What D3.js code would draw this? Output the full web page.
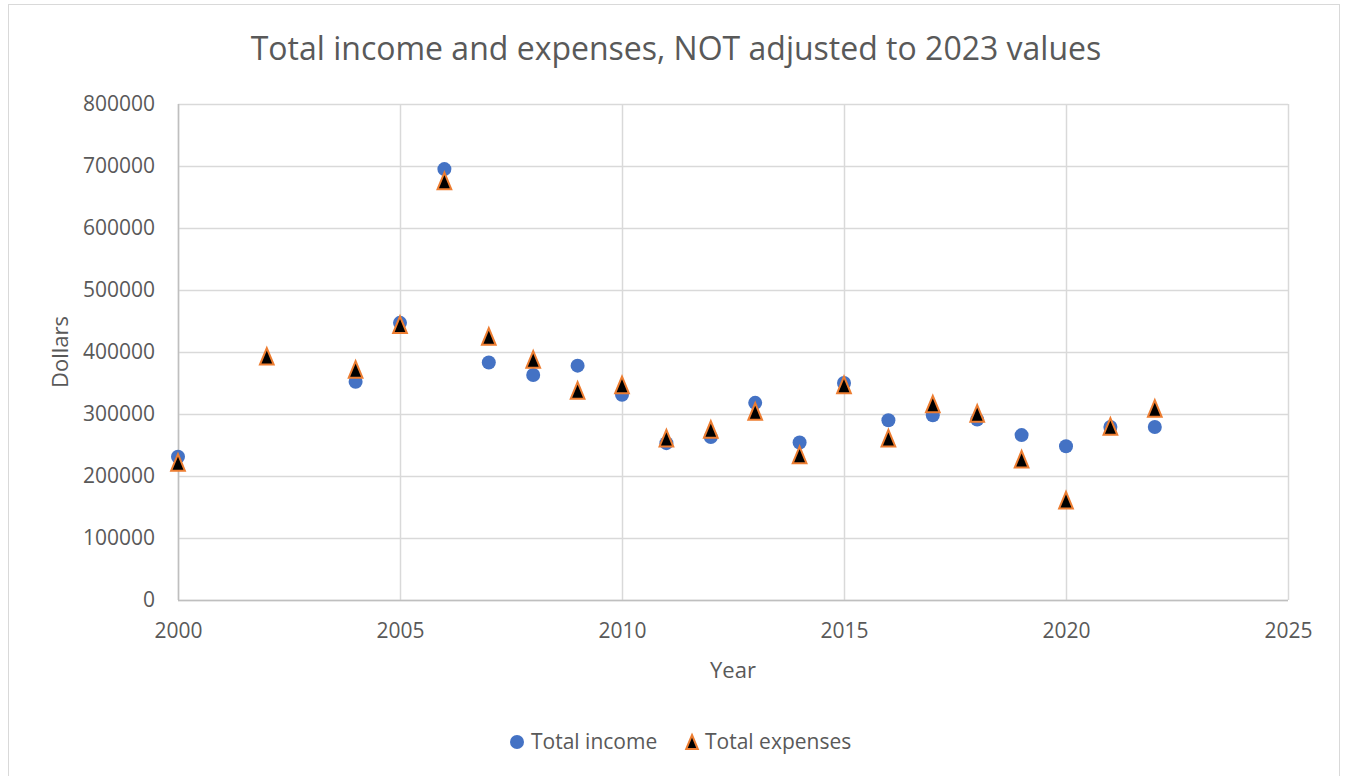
<!DOCTYPE html>
<html>
<head>
<meta charset="utf-8">
<script src="https://cdn.jsdelivr.net/npm/d3@7/dist/d3.min.js"></script>
<style>
  body { margin: 0; background: #fff; }
  text { font-family: "Open Sans", "Noto Sans", sans-serif; fill: #595959; }
</style>
</head>
<body>
<script>
// data
const incomeYears = [2000, 2004, 2005, 2006, 2007, 2008, 2009, 2010, 2011, 2012, 2013, 2014, 2015, 2016, 2017, 2018, 2019, 2020, 2021, 2022];
const incomeValues = [231000, 352000, 447000, 695000, 383000, 363000, 378000, 331000, 253000, 263000, 318000, 254000, 350000, 290000, 298000, 291000, 266000, 248000, 279000, 279000];
const expenseYears = [2000, 2002, 2004, 2005, 2006, 2007, 2008, 2009, 2010, 2011, 2012, 2013, 2014, 2015, 2016, 2017, 2018, 2019, 2020, 2021, 2022];
const expenseValues = [222000, 393000, 372000, 444000, 676000, 425000, 388000, 338000, 347000, 261000, 275000, 304000, 234000, 347000, 261000, 316000, 301000, 227000, 161000, 280000, 309000];
const xTicks = [2000, 2005, 2010, 2015, 2020, 2025];
const yTicks = [0, 100000, 200000, 300000, 400000, 500000, 600000, 700000, 800000];

const width = 1348, height = 776;
const margin = {left: 178, right: 60, top: 104, bottom: 176};

const svg = d3.select("body").append("svg")
  .attr("width", width)
  .attr("height", height);

// chart frame
svg.append("rect")
  .attr("x", 8.5).attr("y", 4.5)
  .attr("width", 1331).attr("height", 790)
  .attr("fill", "#fff")
  .attr("stroke", "#d9d9d9");

const x = d3.scaleLinear().domain([2000, 2025]).range([margin.left, width - margin.right]);
const y = d3.scaleLinear().domain([0, 800000]).range([height - margin.bottom, margin.top]);

// gridlines
svg.append("g").selectAll("line").data(yTicks).enter().append("line")
  .attr("x1", x(2000)).attr("x2", x(2025))
  .attr("y1", d => Math.round(y(d)) + 0.5).attr("y2", d => Math.round(y(d)) + 0.5)
  .attr("stroke", "#d9d9d9").attr("stroke-width", 1.5);
svg.append("g").selectAll("line").data(xTicks).enter().append("line")
  .attr("x1", d => Math.round(x(d)) + 0.5).attr("x2", d => Math.round(x(d)) + 0.5)
  .attr("y1", y(0)).attr("y2", y(800000))
  .attr("stroke", "#d9d9d9").attr("stroke-width", 1.5);

// axes
const xAxis = svg.append("g")
  .attr("transform", `translate(0,${y(0)})`)
  .call(d3.axisBottom(x).tickValues(xTicks).tickFormat(d3.format("d")).tickSize(0).tickPadding(23));
xAxis.select(".domain").remove();
xAxis.selectAll("text").style("font-size", "21px").attr("fill", "#595959");

const yAxis = svg.append("g")
  .attr("transform", `translate(${x(2000)},0)`)
  .call(d3.axisLeft(y).tickValues(yTicks).tickFormat(d3.format("d")).tickSize(0).tickPadding(23));
yAxis.select(".domain").remove();
yAxis.selectAll("text").style("font-size", "21px").attr("fill", "#595959");

// axis lines (a bit darker)
svg.append("line")
  .attr("x1", x(2000)).attr("x2", x(2025))
  .attr("y1", y(0) + 0.5).attr("y2", y(0) + 0.5)
  .attr("stroke", "#bfbfbf").attr("stroke-width", 1.5);
svg.append("line")
  .attr("x1", x(2000) + 0.5).attr("x2", x(2000) + 0.5)
  .attr("y1", y(0)).attr("y2", y(800000))
  .attr("stroke", "#bfbfbf").attr("stroke-width", 1.5);

// titles
svg.append("text")
  .attr("x", 676).attr("y", 60)
  .attr("text-anchor", "middle")
  .style("font-size", "32px")
  .text("Total income and expenses, NOT adjusted to 2023 values");

svg.append("text")
  .attr("x", 733).attr("y", 678)
  .attr("text-anchor", "middle")
  .style("font-size", "22px")
  .text("Year");

svg.append("text")
  .attr("transform", "translate(68,352) rotate(-90)")
  .attr("text-anchor", "middle")
  .style("font-size", "22px")
  .text("Dollars");

// excel-style triangle: bounding box centred on the point, taller than wide
const excelTriangle = {
  draw(context, size) {
    const w = Math.sqrt(size) * 0.58, h = Math.sqrt(size) * 0.7;
    context.moveTo(0, -h);
    context.lineTo(w, h);
    context.lineTo(-w, h);
    context.closePath();
  }
};
const tri = d3.symbol().type(excelTriangle).size(140);

const income = incomeYears.map((d, i) => ({year: d, value: incomeValues[i]}));
const expenses = expenseYears.map((d, i) => ({year: d, value: expenseValues[i]}));

svg.append("g").selectAll("circle").data(income).enter().append("circle")
  .attr("cx", d => x(d.year))
  .attr("cy", d => y(d.value))
  .attr("r", 7)
  .attr("fill", "#4472c4");

svg.append("g").selectAll("path").data(expenses).enter().append("path")
  .attr("d", tri)
  .attr("transform", d => `translate(${x(d.year)},${y(d.value)})`)
  .attr("fill", "#000")
  .attr("stroke", "#ed7d31")
  .attr("stroke-width", 2);

// legend
const legend = svg.append("g");
legend.append("circle").attr("cx", 517).attr("cy", 742).attr("r", 7).attr("fill", "#4472c4");
legend.append("text").attr("x", 531).attr("y", 749).style("font-size", "21px").text("Total income");
legend.append("path").attr("d", d3.symbol().type(excelTriangle).size(100))
  .attr("transform", "translate(692,742)")
  .attr("fill", "#000").attr("stroke", "#ed7d31").attr("stroke-width", 2);
legend.append("text").attr("x", 705).attr("y", 749).style("font-size", "21px").text("Total expenses");
</script>
</body>
</html>
